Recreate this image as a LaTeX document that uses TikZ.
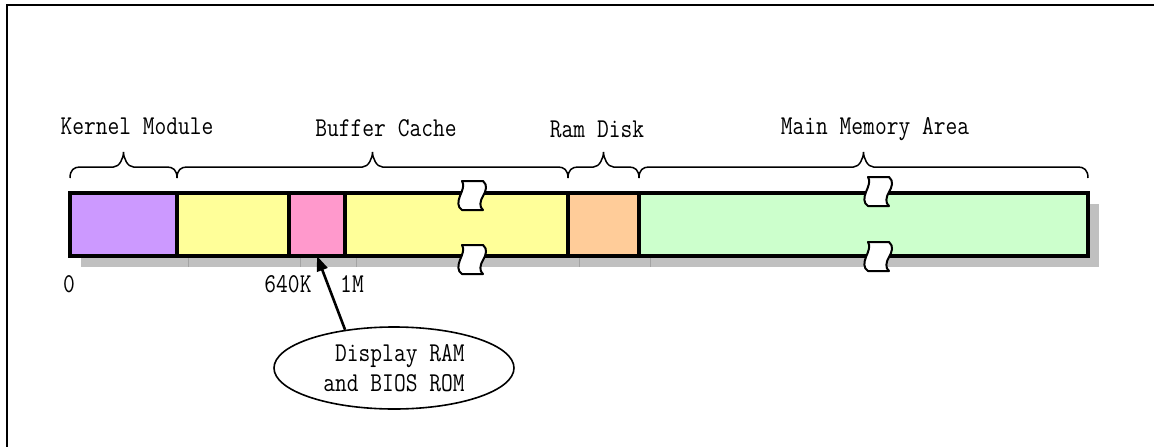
\documentclass[tikz,border=0pt]{standalone}
\usepackage{fontspec}
\newfontfamily\memfont[FakeStretch=0.84]{Latin Modern Mono}
\usetikzlibrary{arrows.meta,positioning,backgrounds,calc,shapes.geometric}
\definecolor{cKern}{HTML}{CC99FF}
\definecolor{cBuf} {HTML}{FFFF99}
\definecolor{cDisp}{HTML}{FF99CC}
\definecolor{cRam} {HTML}{FFCC99}
\definecolor{cMain}{HTML}{CCFFCC}
\definecolor{cShd} {HTML}{C0C0C0}
\tikzset{
  seg/.style   ={draw=black,line width=3.2pt,minimum height=63pt,inner sep=0pt,
                 outer sep=0pt},
  shd/.style   ={fill=cShd},
  shdln/.style ={draw=black!36,line width=0.6pt},
  brc/.style   ={draw=black,line width=1.5pt},
  lbl/.style   ={font=\memfont\fontsize{27.2}{30}\selectfont,inner sep=0pt},
  brkbox/.style={fill=white,draw=black,line width=2pt,line join=round},
  arr/.style   ={-{Triangle[length=15pt,width=11pt]},draw=black,line width=2.6pt},
  bub/.style   ={lbl,ellipse,draw=black,line width=1.6pt,minimum width=240pt,
                 minimum height=82pt,align=right},
  frm/.style   ={draw=black,line width=2.6pt},
}

\begin{document}
\begin{tikzpicture}[x=1pt, y=-1pt]
\useasboundingbox (0,0) rectangle (1154,447);
\draw[frm] (7,447) -- (7,5) -- (1154,5);

% ===== memory bar ==========================================================
\node[seg,fill=cKern,minimum width=107,anchor=north west] (kern) at (70,193) {};
\node[seg,fill=cBuf, minimum width=112,right=0pt of kern] (buf1) {};
\node[seg,fill=cDisp,minimum width=56, right=0pt of buf1] (disp) {};
\node[seg,fill=cBuf, minimum width=223,right=0pt of disp] (buf2) {};
\node[seg,fill=cRam, minimum width=71, right=0pt of buf2] (rdsk) {};
\node[seg,fill=cMain,minimum width=449,right=0pt of rdsk] (main) {};
\begin{scope}[on background layer]
  \foreach \n in {kern,buf1,disp,buf2,rdsk,main}
    \fill[shd] ([shift={(11,11)}]\n.north west) rectangle ([shift={(11,11)}]\n.south east);
  \foreach \n in {buf1,disp,buf2,rdsk,main}
    \draw[shdln] ([shift={(11,2)}]\n.south west) -- ([shift={(11,11)}]\n.south west);
\end{scope}
% break marks across the long areas
\foreach \bx/\by in {462/181,462/245,868/177,868/242}
  \draw[brkbox,shift={(\bx,\by)}] (0,0) -- (21,0)
    .. controls (26,4) and (24,10) .. (21,15) .. controls (18,20) and (17,26) .. (21,29)
    -- (0,29) .. controls (-5,26) and (-4,20) .. (-2,15)
    .. controls (0,10) and (3,4) .. (0,0) -- cycle;

% ===== braces and area names ===============================================
\foreach \a/\b in {kern/kern,buf1/buf2,rdsk/rdsk,main/main}{
  \coordinate (bl) at ([yshift=15pt]\a.north west);
  \coordinate (br) at ([yshift=15pt]\b.north east);
  \coordinate (bm) at ($(bl)!0.5!(br)$);
  \draw[brc] (bl) .. controls +(0,-8) and +(-6,0) .. ($(bl)+(10,-11)$)
    -- ($(bm)+(-10,-11)$) .. controls +(6,0) and +(0,6) .. ($(bm)+(0,-26)$)
    .. controls +(0,6) and +(-6,0) .. ($(bm)+(10,-11)$)
    -- ($(br)+(-10,-11)$) .. controls +(6,0) and +(0,-8) .. (br);
}
\node[lbl] (kernlbl) at (137,126) {Kernel Module};
\node[lbl] (buflbl)  at (386,128) {Buffer Cache};
\node[lbl] (rdsklbl) at (597,129) {Ram Disk};
\node[lbl] (mainlbl) at (875,129) {Main Memory Area};

% ===== addresses ===========================================================
\node[lbl] (a0)    at (69,284)  {0};
\node[lbl] (a640)  at (288,284) {640K};
\node[lbl] (a1m)   at (352,284) {1M};

% ===== display area callout ================================================
\node[bub] (bub) at (394,368) {Display RAM\\and BIOS ROM};
\draw[arr] (bub.142) -- (disp.south);
\end{tikzpicture}
\end{document}
